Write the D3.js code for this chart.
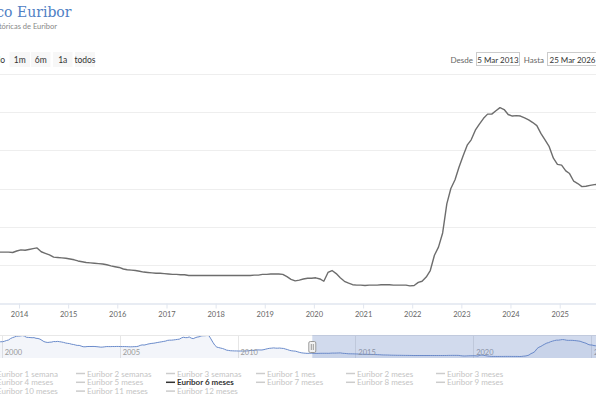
<!DOCTYPE html>
<html>
<head>
<meta charset="utf-8">
<script src="https://cdn.jsdelivr.net/npm/d3@7"></script>
<style>
  body { margin: 0; background: #fff; }
  svg { display: block; font-family: Lato, "Open Sans", sans-serif; }
</style>
</head>
<body>
<div id="chart"></div>
<script>
// Euribor 6 meses, media mensual (%)
const eur6m1999to2012 = [
  3.13, 3.08, 3.05, 2.72, 2.62, 2.68, 2.80, 2.93, 3.05, 3.42, 3.46, 3.51,
  3.52, 3.66, 3.85, 3.99, 4.37, 4.63, 4.80, 5.02, 5.05, 5.10, 5.19, 5.09,
  4.75, 4.69, 4.66, 4.61, 4.63, 4.45, 4.40, 4.23, 3.90, 3.55, 3.39, 3.31,
  3.38, 3.42, 3.57, 3.54, 3.60, 3.52, 3.44, 3.33, 3.17, 3.07, 3.01, 2.84,
  2.76, 2.62, 2.50, 2.51, 2.32, 2.14, 2.12, 2.19, 2.21, 2.20, 2.22, 2.20,
  2.15, 2.09, 2.02, 2.05, 2.12, 2.19, 2.18, 2.17, 2.20, 2.19, 2.22, 2.21,
  2.19, 2.18, 2.19, 2.17, 2.14, 2.11, 2.13, 2.16, 2.17, 2.27, 2.50, 2.64,
  2.60, 2.72, 2.87, 2.97, 3.06, 3.11, 3.21, 3.32, 3.41, 3.50, 3.60, 3.69,
  3.89, 3.94, 3.94, 4.00, 4.07, 4.15, 4.22, 4.54, 4.74, 4.64, 4.64, 4.82,
  4.50, 4.36, 4.59, 4.78, 4.86, 5.09, 5.15, 5.16, 5.22, 5.18, 4.29, 3.37,
  2.54, 2.03, 1.91, 1.77, 1.65, 1.44, 1.21, 1.12, 1.04, 1.02, 0.99, 0.99,
  0.96, 0.96, 0.95, 0.96, 0.98, 1.01, 1.10, 1.15, 1.14, 1.22, 1.27, 1.25,
  1.25, 1.35, 1.48, 1.62, 1.71, 1.75, 1.82, 1.75, 1.74, 1.78, 1.71, 1.67,
  1.50, 1.35, 1.16, 1.04, 0.97, 0.93, 0.78, 0.61, 0.48, 0.41, 0.36, 0.32
];
const eur6m2013to2026 = [
  0.34, 0.36, 0.33, 0.32, 0.30, 0.32, 0.34, 0.34, 0.34, 0.34, 0.33, 0.37,
  0.40, 0.39, 0.41, 0.43, 0.45, 0.35, 0.31, 0.27, 0.21, 0.20, 0.19, 0.18,
  0.16, 0.14, 0.11, 0.09, 0.07, 0.06, 0.05, 0.04, 0.03, 0.01, -0.02, -0.04,
  -0.06, -0.10, -0.12, -0.13, -0.14, -0.16, -0.18, -0.19, -0.20, -0.21, -0.21, -0.22,
  -0.23, -0.24, -0.24, -0.25, -0.25, -0.27, -0.27, -0.27, -0.27, -0.27, -0.27, -0.27,
  -0.27, -0.27, -0.27, -0.27, -0.27, -0.27, -0.27, -0.27, -0.27, -0.26, -0.26, -0.24,
  -0.24, -0.23, -0.23, -0.23, -0.24, -0.30, -0.37, -0.41, -0.39, -0.36, -0.34, -0.34,
  -0.33, -0.36, -0.42, -0.19, -0.14, -0.22, -0.33, -0.42, -0.47, -0.51, -0.52, -0.52,
  -0.53, -0.52, -0.52, -0.52, -0.51, -0.51, -0.51, -0.52, -0.52, -0.52, -0.52, -0.54,
  -0.53, -0.45, -0.42, -0.31, -0.14, 0.26, 0.47, 0.84, 1.60, 2.00, 2.23, 2.56,
  2.86, 3.14, 3.27, 3.52, 3.68, 3.83, 3.94, 3.94, 4.03, 4.11, 4.06, 3.93,
  3.89, 3.90, 3.89, 3.84, 3.79, 3.72, 3.64, 3.43, 3.26, 3.09, 2.79, 2.63,
  2.61, 2.46, 2.39, 2.19, 2.13, 2.05, 2.06, 2.08, 2.10, 2.11, 2.13, 2.14,
  2.15, 2.17, 2.20
];
const yTicks = [0, 1, 2, 3, 4, 5];
const rangeButtons = ["1m", "6m", "1a", "todos"];
const legendNames = [
  "Euribor 1 semana", "Euribor 2 semanas", "Euribor 3 semanas", "Euribor 1 mes", "Euribor 2 meses", "Euribor 3 meses",
  "Euribor 4 meses", "Euribor 5 meses", "Euribor 6 meses", "Euribor 7 meses", "Euribor 8 meses", "Euribor 9 meses",
  "Euribor 10 meses", "Euribor 11 meses", "Euribor 12 meses"
];
const activeSeries = "Euribor 6 meses";

let width = 596, height = 398;

function toSeries(values, startYear) {
  return values.map(function (v, i) {
    return {date: new Date(startYear + Math.floor(i / 12), i % 12, 15), value: v};
  });
}
let allData = toSeries(eur6m1999to2012, 1999).concat(toSeries(eur6m2013to2026, 2013));

let fromDate = new Date(2013, 2, 5), toDate = new Date(2026, 2, 25);
let mainData = allData.filter(function (d) { return d.date >= new Date(2013, 1, 15); });

let svg = d3.select('#chart')
    .append('svg')
    .attr("width", width)
    .attr("height", height);

// title (cropped on the left in the original)
svg.append('text')
    .attr('x', 71.5).attr('y', 17)
    .attr('text-anchor', 'end')
    .attr('font-family', '"DejaVu Serif", serif')
    .attr('font-size', 14)
    .attr('fill', '#4f80c4')
    .text("Gráfico Euribor");
svg.append('text')
    .attr('x', 57).attr('y', 29)
    .attr('text-anchor', 'end')
    .attr('font-size', 7.5)
    .attr('fill', '#888')
    .text("Series históricas de Euribor");

// range selector
svg.append('text')
    .attr('x', 5).attr('y', 62.5)
    .attr('text-anchor', 'end')
    .attr('font-size', 8.5).attr('fill', '#333')
    .text("Periodo");
let btnX = [9.5, 31, 53, 75];
let btnW = [20.5, 19.5, 19.5, 20];
rangeButtons.forEach(function (b, i) {
  svg.append('rect')
      .attr('x', btnX[i]).attr('y', 52)
      .attr('width', btnW[i]).attr('height', 15)
      .attr('fill', '#f7f7f7');
  svg.append('text')
      .attr('x', btnX[i] + btnW[i] / 2).attr('y', 62.5)
      .attr('text-anchor', 'middle')
      .attr('font-size', 8.5).attr('fill', '#333')
      .text(b);
});

let monthsEs = ["Ene","Feb","Mar","Abr","May","Jun","Jul","Ago","Sep","Oct","Nov","Dic"];
function fmtDate(d) { return d.getDate() + " " + monthsEs[d.getMonth()] + " " + d.getFullYear(); }

svg.append('text').attr('x', 473).attr('y', 62.5).attr('text-anchor', 'end')
    .attr('font-size', 8).attr('fill', '#666').text("Desde");
svg.append('rect').attr('x', 476.5).attr('y', 52.5).attr('width', 43).attr('height', 13)
    .attr('fill', '#fff').attr('stroke', '#ccc');
svg.append('text').attr('x', 498).attr('y', 62.5).attr('text-anchor', 'middle')
    .attr('font-size', 8).attr('fill', '#333').text(fmtDate(fromDate));
svg.append('text').attr('x', 544).attr('y', 62.5).attr('text-anchor', 'end')
    .attr('font-size', 8).attr('fill', '#666').text("Hasta");
svg.append('rect').attr('x', 547.5).attr('y', 52.5).attr('width', 50).attr('height', 13)
    .attr('fill', '#fff').attr('stroke', '#ccc');
svg.append('text').attr('x', 549.5).attr('y', 62.5)
    .attr('font-size', 8).attr('fill', '#333').text(fmtDate(toDate));

// main chart
let plotTop = 73.5, plotBottom = 303.5;
let xScale = d3.scaleTime().domain([fromDate, toDate]).range([-21.6, 620]);
let yScale = d3.scaleLinear().domain([-1, 5]).range([plotBottom, plotTop]);

svg.append('g')
    .selectAll('line')
    .data(yTicks)
    .enter()
    .append('line')
    .attr('x1', 0).attr('x2', width)
    .attr('y1', function (d) { return Math.round(yScale(d)) + 0.5; })
    .attr('y2', function (d) { return Math.round(yScale(d)) + 0.5; })
    .attr('stroke', '#eeeeee');

let xAxisCall = d3.axisBottom(xScale)
    .ticks(d3.timeYear.every(1))
    .tickFormat(d3.timeFormat("%Y"))
    .tickSize(5)
    .tickPadding(3);

let xAxis = svg.append('g')
    .attr("transform", "translate(0," + plotBottom + ")")
    .call(xAxisCall);
xAxis.select('.domain').attr('stroke', '#e1e6ef').attr('stroke-width', 1.5);
xAxis.selectAll('.tick line').attr('stroke', '#e1e6ef');
xAxis.selectAll('.tick text').attr('fill', '#666').attr('font-size', 7.5)
    .attr('font-family', 'Lato, sans-serif');

let line = d3.line()
    .x(function (d) { return xScale(d.date); })
    .y(function (d) { return yScale(d.value); });

svg.append('path')
    .datum(mainData)
    .attr('d', line)
    .attr('fill', 'none')
    .attr('stroke', '#6d6d6d')
    .attr('stroke-width', 1.4)
    .attr('stroke-linejoin', 'round');

// navigator
let navTop = 335, navBottom = 358;
let xNav = d3.scaleTime().domain([new Date(1999, 0, 4), toDate]).range([-21.6, 620]);
let yNav = d3.scaleLinear()
    .domain([d3.min(allData, function (d) { return d.value; }), d3.max(allData, function (d) { return d.value; })])
    .range([navBottom - 1.5, navTop + 0.5]);

let navTicks = d3.timeYear.every(5).range(new Date(2000, 0, 1), new Date(2026, 0, 2));
let nav = svg.append('g');
nav.selectAll('line.grid')
    .data(navTicks)
    .enter()
    .append('line')
    .attr('class', 'grid')
    .attr('x1', function (d) { return Math.round(xNav(d)) + 0.5; })
    .attr('x2', function (d) { return Math.round(xNav(d)) + 0.5; })
    .attr('y1', navTop).attr('y2', navBottom)
    .attr('stroke', '#e6e6e6');

let navArea = d3.area()
    .x(function (d) { return xNav(d.date); })
    .y0(navBottom)
    .y1(function (d) { return yNav(d.value); });
let navLine = d3.line()
    .x(function (d) { return xNav(d.date); })
    .y(function (d) { return yNav(d.value); });

nav.append('path').datum(allData).attr('d', navArea)
    .attr('fill', '#335cad').attr('fill-opacity', 0.06);
nav.append('path').datum(allData).attr('d', navLine)
    .attr('fill', 'none').attr('stroke', '#6a8bcb').attr('stroke-width', 1);

nav.selectAll('text')
    .data(navTicks)
    .enter()
    .append('text')
    .attr('x', function (d) { return xNav(d) + 3; })
    .attr('y', navBottom - 3)
    .attr('font-size', 7.5)
    .attr('fill', '#999')
    .text(d3.timeFormat("%Y"));

nav.append('line').attr('x1', 0).attr('x2', width)
    .attr('y1', navTop + 0.5).attr('y2', navTop + 0.5)
    .attr('stroke', '#e8e8e8');

nav.append('rect')
    .attr('x', xNav(fromDate)).attr('y', navTop)
    .attr('width', xNav(toDate) - xNav(fromDate)).attr('height', navBottom - navTop)
    .attr('fill', 'rgba(102,133,194,0.3)');

nav.append('rect')
    .attr('x', xNav(fromDate) - 3.5).attr('y', 341.5)
    .attr('width', 7).attr('height', 11).attr('rx', 1.5)
    .attr('fill', '#f2f2f2').attr('stroke', '#999');
nav.append('line')
    .attr('x1', xNav(fromDate) - 1).attr('x2', xNav(fromDate) - 1)
    .attr('y1', 344).attr('y2', 350).attr('stroke', '#999');
nav.append('line')
    .attr('x1', xNav(fromDate) + 1).attr('x2', xNav(fromDate) + 1)
    .attr('y1', 344).attr('y2', 350).attr('stroke', '#999');

// legend
let legend = svg.append('g');
legendNames.forEach(function (name, i) {
  let col = i % 6, row = Math.floor(i / 6);
  let x = -14 + col * 90, y = 373.5 + row * 8.8;
  let active = name === activeSeries;
  legend.append('line')
      .attr('x1', x).attr('x2', x + 9)
      .attr('y1', y).attr('y2', y)
      .attr('stroke', active ? '#333' : '#cccccc')
      .attr('stroke-width', 1.5);
  legend.append('text')
      .attr('x', x + 11).attr('y', y + 3)
      .attr('font-size', 8)
      .attr('font-weight', active ? 'bold' : 'normal')
      .attr('fill', active ? '#333' : '#c4c4c4')
      .text(name);
});
</script>
</body>
</html>
